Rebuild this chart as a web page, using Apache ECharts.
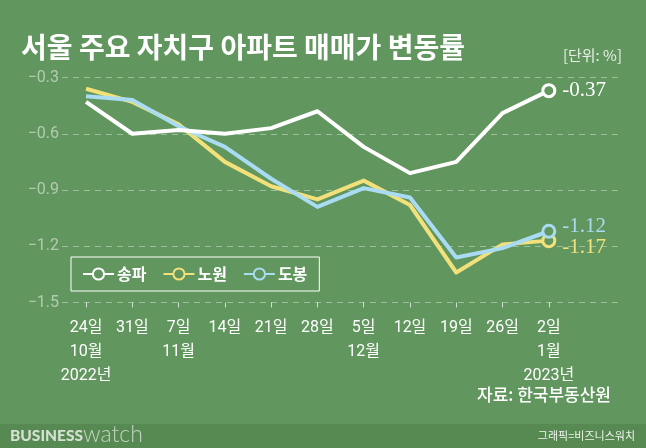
<!DOCTYPE html>
<html><head><meta charset="utf-8">
<script src="https://cdn.jsdelivr.net/npm/echarts@6/dist/echarts.min.js"></script>
<style>html,body{margin:0;padding:0;background:#62965f;}#c{width:646px;height:448px;}</style>
</head><body><div id="c"></div>
<script>
const xLabels = ['24일\n10월\n2022년','31일','7일\n11월','14일','21일','28일','5일\n12월','12일','19일','26일','2일\n1월\n2023년'];
const songpa = [-0.43,-0.60,-0.58,-0.60,-0.57,-0.48,-0.67,-0.81,-0.75,-0.49,-0.37];
const nowon  = [-0.36,-0.43,-0.55,-0.75,-0.88,-0.95,-0.85,-0.98,-1.34,-1.19,-1.17];
const dobong = [-0.40,-0.42,-0.56,-0.67,-0.84,-0.99,-0.89,-0.94,-1.26,-1.21,-1.12];
const seriesNames = ['송파','노원','도봉'];
const yTicks = [-1.5,-1.2,-0.9,-0.6,-0.3];

const BG = '#62965f';
const colors = {'송파':'#ffffff','노원':'#f2e07a','도봉':'#a9dcf2'};
const labelOffset = {'송파':[0,0],'노원':[0,7],'도봉':[0,-5]};

function mk(name, vals, z){
  const last = vals.length-1;
  return {
    name, type:'line', z,
    symbol:'circle', symbolSize:12, showSymbol:true,
    lineStyle:{width:4,color:colors[name],join:'round'},
    itemStyle:{color:BG,borderColor:colors[name],borderWidth:3},
    emphasis:{disabled:true},
    data: vals.map((v,i)=> i===last ? {
      value:[i,v], symbol:'circle', symbolSize:12,
      label:{show:true,position:'right',distance:6,offset:labelOffset[name],
        formatter:(p)=>p.value[1].toFixed(2),
        color:colors[name],fontFamily:'Liberation Serif',fontSize:21}
    } : {value:[i,v], symbol:'none'})
  };
}

const chart = echarts.init(document.getElementById('c'), null, {renderer:'canvas'});
chart.setOption({
  animation:false,
  backgroundColor:BG,
  grid:{left:62,right:25,top:77.5,bottom:145.5},
  xAxis:{
    type:'value', min:-0.52, max:11.56,
    axisLine:{show:false}, splitLine:{show:false},
    axisTick:{show:true,length:5,customValues:xLabels.map((_,i)=>i),lineStyle:{color:'rgba(255,255,255,0.7)',width:1}},
    axisLabel:{customValues:xLabels.map((_,i)=>i),formatter:(v)=>xLabels[Math.round(v)],
      color:'#ffffff',fontSize:16,lineHeight:24,margin:13,fontFamily:"Roboto, 'Noto Sans CJK KR'"}
  },
  yAxis:{
    type:'value', min:yTicks[0], max:yTicks[yTicks.length-1], interval:0.3,
    axisLine:{show:false}, axisTick:{show:false},
    splitLine:{show:true,lineStyle:{type:[6,5],color:'rgba(255,255,255,0.38)',width:1}},
    axisLabel:{formatter:(v)=>v.toFixed(1).replace('-','\u2212'),color:'rgba(255,255,255,0.5)',fontSize:16,margin:3,fontFamily:'Roboto'}
  },
  legend:{
    data:seriesNames, left:71, top:257, orient:'horizontal',
    padding:[9,12,9,11], itemGap:16, itemWidth:31, itemHeight:14,
    borderColor:'#ffffff', borderWidth:1,
    textStyle:{color:'#ffffff',fontSize:16,fontWeight:'bold',fontFamily:"'Noto Sans CJK KR'",padding:[0,0,0,-2]}
  },
  series:[mk('노원',nowon,2), mk('도봉',dobong,3), mk('송파',songpa,4)],
  graphic:[
    {type:'text',left:21,top:33,style:{text:'서울 주요 자치구 아파트 매매가 변동률',fill:'#ffffff',font:"bold 28px 'Noto Sans CJK KR'"}},
    {type:'text',right:24,top:48,style:{text:'[단위: %]',fill:'rgba(255,255,255,0.85)',font:"15px 'Noto Sans CJK KR'"}},
    {type:'text',right:35,top:386,style:{text:'자료: 한국부동산원',fill:'#ffffff',font:"500 17px 'Noto Sans CJK KR'"}},
    {type:'rect',left:0,top:424,shape:{width:646,height:24},style:{fill:'#578a53'}},
    {type:'text',left:10,top:428,style:{text:'BUSINESS',fill:'#d5e0d2',font:"900 15.5px Lato"}},
    {type:'text',left:83,top:423,style:{text:'watch',fill:'#c3d3c0',font:"300 23px Lato"}},
    {type:'text',right:11,top:430,style:{text:'그래픽=비즈니스워치',fill:'#eef3ec',font:"11px 'Noto Sans CJK KR'"}}
  ]
});
</script></body></html>
